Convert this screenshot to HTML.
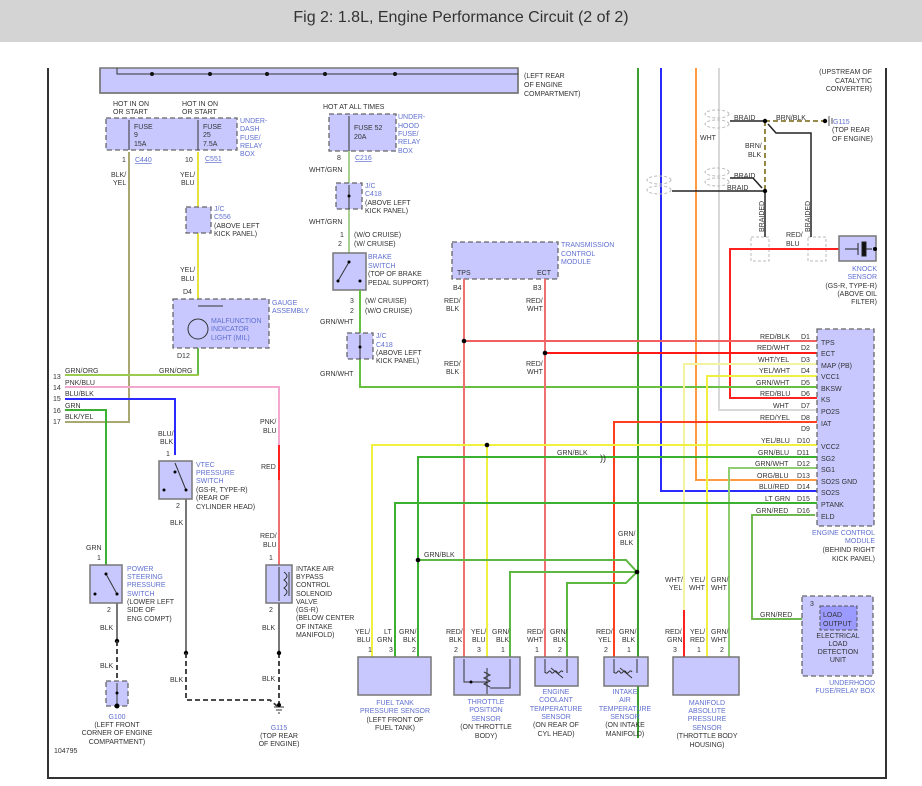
<!DOCTYPE html>
<html><head><meta charset="utf-8"><style>
html,body{margin:0;padding:0;background:#fff;}
svg{display:block;font-family:"Liberation Sans",sans-serif;}
.t{font-size:7px;fill:#333;}
.b{font-size:7px;fill:#6070d0;}
.box{fill:#c8c8ff;stroke:#777;stroke-width:1.5;}
.dbox{fill:#c8c8ff;stroke:#666;stroke-width:1.3;stroke-dasharray:5,3;}
.w{fill:none;stroke-width:2;}
</style></head><body>
<svg width="922" height="786" viewBox="0 0 922 786" xmlns="http://www.w3.org/2000/svg">
<rect x="0" y="0" width="922" height="42" fill="#d4d4d4"/>
<text x="461" y="22" text-anchor="middle" style="font-size:16px;fill:#333">Fig 2: 1.8L, Engine Performance Circuit (2 of 2)</text>
<!-- frame -->
<path d="M48 68V778H886V68" fill="none" stroke="#333" stroke-width="2"/>
<!-- top box -->
<rect x="100" y="68" width="418" height="25" class="box" stroke="none"/>
<path d="M100 68V93H518V68" fill="none" stroke="#777" stroke-width="1.5"/>
<path d="M117 68V74H518" fill="none" stroke="#333" stroke-width="1"/>
<g fill="#111"><circle cx="152" cy="74" r="2"/><circle cx="210" cy="74" r="2"/><circle cx="267" cy="74" r="2"/><circle cx="325" cy="74" r="2"/><circle cx="395" cy="74" r="2"/></g>
<text class="t" x="524" y="78">(LEFT REAR</text><text class="t" x="524" y="87">OF ENGINE</text><text class="t" x="524" y="96">COMPARTMENT)</text>

<!-- right-side vertical wires from top -->
<path class="w" d="M638 68V738" stroke="#3aa030"/>
<path class="w" d="M661 68V491H818" stroke="#2a2aff"/>
<path class="w" d="M696 68V480H818" stroke="#ff9a40"/>
<path class="w" d="M719 68V410H818" stroke="#d8d8d8"/>

<!-- upstream text -->
<text class="t" x="872" y="74" text-anchor="end">(UPSTREAM OF</text>
<text class="t" x="872" y="83" text-anchor="end">CATALYTIC</text>
<text class="t" x="872" y="91" text-anchor="end">CONVERTER)</text>

<!-- braid area -->
<g fill="none" stroke="#bbb" stroke-dasharray="3,2">
<ellipse cx="717" cy="114" rx="12" ry="4"/><ellipse cx="717" cy="124" rx="12" ry="4"/>
<ellipse cx="717" cy="172" rx="12" ry="4"/><ellipse cx="717" cy="182" rx="12" ry="4"/>
<ellipse cx="659" cy="180" rx="12" ry="4"/><ellipse cx="659" cy="190" rx="12" ry="4"/>
<rect x="751" y="237" width="18" height="24"/><rect x="808" y="237" width="18" height="24"/>
</g>
<path d="M730 121H765M672 191H765M730 178H753L762 188M765 191V237M768 124L776 133H811V237" fill="none" stroke="#222" stroke-width="1.5"/>
<path d="M765 121H823M765 121V191" fill="none" stroke="#8a7a30" stroke-width="1.8" stroke-dasharray="5,3"/>
<circle cx="765" cy="121" r="2.2"/><circle cx="765" cy="191" r="2.2"/><circle cx="825" cy="121" r="2.2"/>
<path d="M829 116V126M832 118V124" stroke="#555"/>
<text class="t" x="734" y="120">BRAID</text><text class="t" x="776" y="120">BRN/BLK</text>
<text class="b" x="833" y="124">G115</text><text class="t" x="832" y="132">(TOP REAR</text><text class="t" x="832" y="141">OF ENGINE)</text>
<text class="t" x="700" y="140">WHT</text>
<text class="t" x="745" y="148">BRN/</text><text class="t" x="748" y="157">BLK</text>
<text class="t" x="734" y="178">BRAID</text><text class="t" x="727" y="190">BRAID</text>
<text class="t" transform="translate(764,232) rotate(-90)">BRAIDED</text>
<text class="t" transform="translate(810,232) rotate(-90)">BRAIDED</text>
<text class="t" x="786" y="237">RED/</text><text class="t" x="786" y="246">BLU</text>
<path class="w" d="M839 249H730V398H818" stroke="#ff2020"/>
<rect x="839" y="236" width="37" height="25" class="box"/>
<path d="M845 249H858M858 243V255M862 242h4v14h-4zM866 249H872" stroke="#222" fill="#111"/>
<circle cx="875" cy="249" r="2"/>
<text class="b" x="877" y="271" text-anchor="end">KNOCK</text><text class="b" x="877" y="279" text-anchor="end">SENSOR</text>
<text class="t" x="877" y="288" text-anchor="end">(GS-R, TYPE-R)</text><text class="t" x="877" y="296" text-anchor="end">(ABOVE OIL</text><text class="t" x="877" y="304" text-anchor="end">FILTER)</text>

<!-- under-dash fuse box -->
<text class="t" x="113" y="106">HOT IN ON</text><text class="t" x="113" y="114">OR START</text>
<text class="t" x="182" y="106">HOT IN ON</text><text class="t" x="182" y="114">OR START</text>
<rect x="106" y="118" width="131" height="32" class="dbox"/>
<path d="M129 120V150M198 120V150" stroke="#333"/>
<text class="t" x="134" y="129">FUSE</text><text class="t" x="134" y="137">9</text><text class="t" x="134" y="146">15A</text>
<text class="t" x="203" y="129">FUSE</text><text class="t" x="203" y="137">25</text><text class="t" x="203" y="146">7.5A</text>
<text class="b" x="240" y="123">UNDER-</text><text class="b" x="240" y="131">DASH</text><text class="b" x="240" y="140">FUSE/</text><text class="b" x="240" y="148">RELAY</text><text class="b" x="240" y="156">BOX</text>
<text class="t" x="122" y="162">1</text><text class="b" x="135" y="162" text-decoration="underline">C440</text>
<text class="t" x="185" y="162">10</text><text class="b" x="205" y="161" text-decoration="underline">C551</text>
<path class="w" d="M129 152V422H65" stroke="#a8a870"/>
<text class="t" x="111" y="177">BLK/</text><text class="t" x="113" y="185">YEL</text>
<path class="w" d="M198 152V375H65" stroke="#e6e040"/>
<path d="M198 300V375" stroke="#66bb44" stroke-width="2"/>
<path d="M65 375H198" stroke="#9acb50" stroke-width="2"/>
<text class="t" x="180" y="177">YEL/</text><text class="t" x="181" y="185">BLU</text>
<rect x="186" y="207" width="25" height="26" class="dbox"/>
<text class="b" x="214" y="211">J/C</text><text class="b" x="214" y="219">C556</text><text class="t" x="214" y="228">(ABOVE LEFT</text><text class="t" x="214" y="236">KICK PANEL)</text>
<text class="t" x="180" y="272">YEL/</text><text class="t" x="181" y="281">BLU</text>
<text class="t" x="183" y="294">D4</text>
<rect x="173" y="299" width="96" height="49" class="dbox"/>
<circle cx="198" cy="329" r="10" fill="none" stroke="#333"/>
<path d="M198 306H223" stroke="#333"/>
<text class="b" x="211" y="323">MALFUNCTION</text><text class="b" x="211" y="331">INDICATOR</text><text class="b" x="211" y="340">LIGHT (MIL)</text>
<text class="b" x="272" y="305">GAUGE</text><text class="b" x="272" y="313">ASSEMBLY</text>
<text class="t" x="177" y="358">D12</text>
<text class="t" x="159" y="373">GRN/ORG</text>

<!-- line numbers -->
<text class="t" x="53" y="379">13</text><text class="t" x="53" y="390">14</text><text class="t" x="53" y="401">15</text><text class="t" x="53" y="413">16</text><text class="t" x="53" y="424">17</text>
<text class="t" x="65" y="373">GRN/ORG</text><text class="t" x="65" y="385">PNK/BLU</text><text class="t" x="65" y="396">BLU/BLK</text><text class="t" x="65" y="408">GRN</text><text class="t" x="65" y="419">BLK/YEL</text>
<path class="w" d="M65 387H279V445" stroke="#f4a8d0"/>
<path class="w" d="M65 399H175V455" stroke="#2a2aff"/>
<path class="w" d="M65 410H106V565" stroke="#3cb030"/>
<path class="w" d="M279 445V480" stroke="#ff2020"/>
<path class="w" d="M279 480V565" stroke="#f07070"/>
<text class="t" x="260" y="424">PNK/</text><text class="t" x="263" y="433">BLU</text>
<text class="t" x="261" y="469">RED</text>
<text class="t" x="260" y="538">RED/</text><text class="t" x="263" y="547">BLU</text>
<text class="t" x="158" y="436">BLU/</text><text class="t" x="160" y="444">BLK</text>

<!-- VTEC -->
<text class="t" x="166" y="456">1</text>
<rect x="159" y="461" width="33" height="38" class="box"/>
<path d="M175 463L186 490" stroke="#333"/><circle cx="175" cy="472" r="1.5"/><circle cx="164" cy="490" r="1.5"/><circle cx="186" cy="490" r="1.5"/>
<text class="b" x="196" y="467">VTEC</text><text class="b" x="196" y="475">PRESSURE</text><text class="b" x="196" y="483">SWITCH</text>
<text class="t" x="196" y="492">(GS-R, TYPE-R)</text><text class="t" x="196" y="500">(REAR OF</text><text class="t" x="196" y="509">CYLINDER HEAD)</text>
<text class="t" x="176" y="508">2</text>
<path d="M186 499V653" stroke="#777" stroke-width="2"/>
<text class="t" x="170" y="525">BLK</text>
<circle cx="186" cy="653" r="2.2"/>
<path d="M186 653V700H270L277 706M279 653V704" fill="none" stroke="#333" stroke-width="1.8" stroke-dasharray="5,3"/>
<text class="t" x="170" y="682">BLK</text>

<!-- power steering -->
<text class="t" x="86" y="550">GRN</text><text class="t" x="97" y="560">1</text>
<rect x="90" y="565" width="32" height="38" class="box"/>
<path d="M106 574L117 594" stroke="#333"/><circle cx="106" cy="574" r="1.5"/><circle cx="95" cy="594" r="1.5"/><circle cx="117" cy="594" r="1.5"/>
<text class="b" x="127" y="571">POWER</text><text class="b" x="127" y="579">STEERING</text><text class="b" x="127" y="587">PRESSURE</text><text class="b" x="127" y="596">SWITCH</text>
<text class="t" x="127" y="604">(LOWER LEFT</text><text class="t" x="127" y="612">SIDE OF</text><text class="t" x="127" y="621">ENG COMPT)</text>
<text class="t" x="107" y="612">2</text>
<path d="M117 603V641" stroke="#777" stroke-width="2"/>
<text class="t" x="100" y="630">BLK</text>
<circle cx="117" cy="641" r="2.2"/>
<path d="M117 641V680" stroke="#333" stroke-width="1.8" stroke-dasharray="5,3"/>
<text class="t" x="100" y="668">BLK</text>
<rect x="106" y="681" width="22" height="25" class="dbox"/>
<path d="M117 683V706" stroke="#333"/><circle cx="117" cy="693" r="1.5"/><circle cx="117" cy="706" r="2.5"/>
<text class="b" x="117" y="719" text-anchor="middle">G100</text>
<text class="t" x="117" y="727" text-anchor="middle">(LEFT FRONT</text><text class="t" x="117" y="735" text-anchor="middle">CORNER OF ENGINE</text><text class="t" x="117" y="744" text-anchor="middle">COMPARTMENT)</text>
<text class="t" x="54" y="753">104795</text>

<!-- IAB -->
<text class="t" x="269" y="560">1</text>
<rect x="266" y="565" width="26" height="38" class="box"/>
<path d="M279 567V601M284 572c4 3 4 5 0 8c4 3 4 5 0 8c4 3 4 5 0 8M289 572V596" fill="none" stroke="#333"/>
<text class="t" x="296" y="571">INTAKE AIR</text><text class="t" x="296" y="579">BYPASS</text><text class="t" x="296" y="587">CONTROL</text><text class="t" x="296" y="596">SOLENOID</text><text class="t" x="296" y="604">VALVE</text>
<text class="t" x="296" y="612">(GS-R)</text><text class="t" x="296" y="620">(BELOW CENTER</text><text class="t" x="296" y="629">OF INTAKE</text><text class="t" x="296" y="637">MANIFOLD)</text>
<text class="t" x="269" y="612">2</text>
<path d="M279 603V653" stroke="#777" stroke-width="2"/>
<text class="t" x="262" y="630">BLK</text>
<circle cx="279" cy="653" r="2.2"/>
<text class="t" x="262" y="681">BLK</text>
<path d="M274 707H284M276 710H282M278 713H280" stroke="#333"/><circle cx="279" cy="705" r="2"/>
<text class="b" x="279" y="730" text-anchor="middle">G115</text>
<text class="t" x="279" y="738" text-anchor="middle">(TOP REAR</text><text class="t" x="279" y="746" text-anchor="middle">OF ENGINE)</text>

<!-- fuse 52 / brake -->
<text class="t" x="323" y="109">HOT AT ALL TIMES</text>
<rect x="329" y="114" width="67" height="37" class="dbox"/>
<path d="M349 116V151" stroke="#333"/>
<text class="t" x="354" y="130">FUSE 52</text><text class="t" x="354" y="139">20A</text>
<text class="b" x="398" y="119">UNDER-</text><text class="b" x="398" y="128">HOOD</text><text class="b" x="398" y="136">FUSE/</text><text class="b" x="398" y="144">RELAY</text><text class="b" x="398" y="153">BOX</text>
<text class="t" x="337" y="160">8</text><text class="b" x="355" y="160" text-decoration="underline">C216</text>
<path class="w" d="M349 151V253" stroke="#a8d090"/>
<text class="t" x="309" y="172">WHT/GRN</text>
<rect x="336" y="183" width="26" height="26" class="dbox"/>
<path d="M349 185V209" stroke="#333"/><circle cx="349" cy="196" r="1.5"/>
<text class="b" x="365" y="188">J/C</text><text class="b" x="365" y="196">C418</text><text class="t" x="365" y="205">(ABOVE LEFT</text><text class="t" x="365" y="213">KICK PANEL)</text>
<text class="t" x="309" y="224">WHT/GRN</text>
<text class="t" x="340" y="237">1</text><text class="t" x="354" y="237">(W/O CRUISE)</text>
<text class="t" x="338" y="246">2</text><text class="t" x="354" y="246">(W/ CRUISE)</text>
<rect x="333" y="253" width="33" height="37" class="box"/>
<path d="M338 281L349 262" stroke="#333"/><circle cx="349" cy="262" r="1.5"/><circle cx="338" cy="281" r="1.5"/><circle cx="360" cy="281" r="1.5"/>
<text class="b" x="368" y="259">BRAKE</text><text class="b" x="368" y="268">SWITCH</text><text class="t" x="368" y="276">(TOP OF BRAKE</text><text class="t" x="368" y="285">PEDAL SUPPORT)</text>
<text class="t" x="350" y="303">3</text><text class="t" x="365" y="303">(W/ CRUISE)</text>
<text class="t" x="350" y="313">2</text><text class="t" x="365" y="313">(W/O CRUISE)</text>
<path class="w" d="M360 290V387H818" stroke="#66c040"/>
<text class="t" x="320" y="324">GRN/WHT</text>
<rect x="347" y="333" width="26" height="26" class="dbox"/>
<path d="M360 335V359" stroke="#333"/><circle cx="360" cy="347" r="1.5"/>
<text class="b" x="376" y="338">J/C</text><text class="b" x="376" y="347">C418</text><text class="t" x="376" y="355">(ABOVE LEFT</text><text class="t" x="376" y="363">KICK PANEL)</text>
<text class="t" x="320" y="376">GRN/WHT</text>

<!-- TCM -->
<rect x="452" y="242" width="106" height="37" class="dbox"/>
<text class="t" x="457" y="275">TPS</text><text class="t" x="537" y="275">ECT</text>
<text class="b" x="561" y="247">TRANSMISSION</text><text class="b" x="561" y="256">CONTROL</text><text class="b" x="561" y="264">MODULE</text>
<text class="t" x="453" y="290">B4</text><text class="t" x="533" y="290">B3</text>
<text class="t" x="444" y="303">RED/</text><text class="t" x="446" y="311">BLK</text>
<text class="t" x="526" y="303">RED/</text><text class="t" x="527" y="311">WHT</text>
<text class="t" x="444" y="366">RED/</text><text class="t" x="446" y="374">BLK</text>
<text class="t" x="526" y="366">RED/</text><text class="t" x="527" y="374">WHT</text>
<path class="w" d="M464 279V657" stroke="#f07070"/>
<path class="w" d="M545 279V657" stroke="#f07070"/>
<path class="w" d="M464 341H818" stroke="#f06060"/>
<path class="w" d="M545 353H818" stroke="#ff1818"/>
<circle cx="464" cy="341" r="2.3"/><circle cx="545" cy="353" r="2.3"/>

<!-- ECM wires -->
<path class="w" d="M684 610V364H818" stroke="#f4f4a0"/>
<path class="w" d="M707 657V376H818" stroke="#f0f040"/>
<path class="w" d="M614 657V422H818" stroke="#ff4020"/>
<path class="w" d="M372 657V445H818" stroke="#f0f040"/>
<path class="w" d="M487 445V657" stroke="#f0f040"/>
<circle cx="487" cy="445" r="2.3"/>
<path class="w" d="M418 657V457H818" stroke="#3cb030"/>
<text class="t" x="600" y="461" style="font-size:9px">))</text>
<path class="w" d="M418 560H626L637 572L626 583H567V657M637 572H510V657" stroke="#5cb840"/>
<circle cx="418" cy="560" r="2.3"/><circle cx="637" cy="572" r="2.3"/>
<path class="w" d="M729 657V468H818" stroke="#90cc70"/>
<path class="w" d="M395 657V503H818" stroke="#3cb030"/>
<path class="w" d="M815 515H752V619H815" stroke="#70b850"/>
<path class="w" d="M684 610V657" stroke="#ff2020"/>
<text class="t" x="557" y="455">GRN/BLK</text>
<text class="t" x="424" y="557">GRN/BLK</text>
<text class="t" x="618" y="536">GRN/</text><text class="t" x="620" y="545">BLK</text>
<text class="t" x="760" y="617">GRN/RED</text>

<!-- ECM box -->
<rect x="817" y="329" width="57" height="197" class="dbox"/>
<g class="t">
<text class="t" x="760" y="339">RED/BLK</text><text class="t" x="801" y="339">D1</text><text class="t" x="821" y="345">TPS</text>
<text class="t" x="757" y="350">RED/WHT</text><text class="t" x="801" y="350">D2</text><text class="t" x="821" y="356">ECT</text>
<text class="t" x="758" y="362">WHT/YEL</text><text class="t" x="801" y="362">D3</text><text class="t" x="821" y="368">MAP (PB)</text>
<text class="t" x="759" y="373">YEL/WHT</text><text class="t" x="801" y="373">D4</text><text class="t" x="821" y="379">VCC1</text>
<text class="t" x="756" y="385">GRN/WHT</text><text class="t" x="801" y="385">D5</text><text class="t" x="821" y="391">BKSW</text>
<text class="t" x="760" y="396">RED/BLU</text><text class="t" x="801" y="396">D6</text><text class="t" x="821" y="402">KS</text>
<text class="t" x="773" y="408">WHT</text><text class="t" x="801" y="408">D7</text><text class="t" x="821" y="414">PO2S</text>
<text class="t" x="760" y="420">RED/YEL</text><text class="t" x="801" y="420">D8</text><text class="t" x="821" y="426">IAT</text>
<text class="t" x="801" y="431">D9</text>
<text class="t" x="761" y="443">YEL/BLU</text><text class="t" x="797" y="443">D10</text><text class="t" x="821" y="449">VCC2</text>
<text class="t" x="758" y="455">GRN/BLU</text><text class="t" x="797" y="455">D11</text><text class="t" x="821" y="461">SG2</text>
<text class="t" x="755" y="466">GRN/WHT</text><text class="t" x="797" y="466">D12</text><text class="t" x="821" y="472">SG1</text>
<text class="t" x="757" y="478">ORG/BLU</text><text class="t" x="797" y="478">D13</text><text class="t" x="821" y="484">SO2S GND</text>
<text class="t" x="759" y="489">BLU/RED</text><text class="t" x="797" y="489">D14</text><text class="t" x="821" y="495">SO2S</text>
<text class="t" x="765" y="501">LT GRN</text><text class="t" x="797" y="501">D15</text><text class="t" x="821" y="507">PTANK</text>
<text class="t" x="756" y="513">GRN/RED</text><text class="t" x="797" y="513">D16</text><text class="t" x="821" y="519">ELD</text>
</g>
<text class="b" x="875" y="535" text-anchor="end">ENGINE CONTROL</text><text class="b" x="875" y="543" text-anchor="end">MODULE</text>
<text class="t" x="875" y="552" text-anchor="end">(BEHIND RIGHT</text><text class="t" x="875" y="561" text-anchor="end">KICK PANEL)</text>

<!-- ELD -->
<rect x="802" y="596" width="71" height="80" class="dbox"/>
<rect x="820" y="606" width="37" height="24" fill="#9a9aff" stroke="#555" stroke-dasharray="4,2"/>
<text class="t" x="810" y="606">3</text>
<text class="t" x="823" y="617">LOAD</text><text class="t" x="823" y="626">OUTPUT</text>
<text class="t" x="838" y="638" text-anchor="middle">ELECTRICAL</text><text class="t" x="838" y="646" text-anchor="middle">LOAD</text><text class="t" x="838" y="654" text-anchor="middle">DETECTION</text><text class="t" x="838" y="662" text-anchor="middle">UNIT</text>
<text class="b" x="875" y="685" text-anchor="end">UNDERHOOD</text><text class="t" x="875" y="693" text-anchor="end" style="fill:#6070d0">FUSE/RELAY BOX</text>

<!-- sensor wire labels -->
<g>
<text class="t" x="355" y="634">YEL/</text><text class="t" x="357" y="642">BLU</text><text class="t" x="384" y="634">LT</text><text class="t" x="377" y="642">GRN</text><text class="t" x="399" y="634">GRN/</text><text class="t" x="403" y="642">BLK</text>
<text class="t" x="446" y="634">RED/</text><text class="t" x="449" y="642">BLK</text><text class="t" x="471" y="634">YEL/</text><text class="t" x="472" y="642">BLU</text><text class="t" x="492" y="634">GRN/</text><text class="t" x="496" y="642">BLK</text>
<text class="t" x="527" y="634">RED/</text><text class="t" x="527" y="642">WHT</text><text class="t" x="550" y="634">GRN/</text><text class="t" x="553" y="642">BLK</text>
<text class="t" x="596" y="634">RED/</text><text class="t" x="598" y="642">YEL</text><text class="t" x="619" y="634">GRN/</text><text class="t" x="622" y="642">BLK</text>
<text class="t" x="665" y="582">WHT/</text><text class="t" x="669" y="590">YEL</text><text class="t" x="690" y="582">YEL/</text><text class="t" x="689" y="590">WHT</text><text class="t" x="711" y="582">GRN/</text><text class="t" x="711" y="590">WHT</text>
<text class="t" x="665" y="634">RED/</text><text class="t" x="667" y="642">GRN</text><text class="t" x="690" y="634">YEL/</text><text class="t" x="690" y="642">RED</text><text class="t" x="711" y="634">GRN/</text><text class="t" x="711" y="642">WHT</text>
<text class="t" x="368" y="652">1</text><text class="t" x="389" y="652">3</text><text class="t" x="412" y="652">2</text>
<text class="t" x="454" y="652">2</text><text class="t" x="477" y="652">3</text><text class="t" x="501" y="652">1</text>
<text class="t" x="535" y="652">1</text><text class="t" x="558" y="652">2</text>
<text class="t" x="604" y="652">2</text><text class="t" x="627" y="652">1</text>
<text class="t" x="673" y="652">3</text><text class="t" x="697" y="652">1</text><text class="t" x="720" y="652">2</text>
</g>

<!-- sensors -->
<rect x="358" y="657" width="73" height="38" class="box"/>
<rect x="454" y="657" width="66" height="38" class="box"/>
<path d="M464 659V682H487M487 668V694M484 672l6 3-6 3 6 3-6 3 6 3M510 659V688H490" fill="none" stroke="#333"/><circle cx="471" cy="682" r="1.5"/>
<rect x="535" y="657" width="43" height="29" class="box"/>
<path d="M545 659V673M567 659V673M545 672c3 4 4-4 6 0s4-4 6 0 4-4 6 0M551 668l12 10" fill="none" stroke="#333"/>
<rect x="604" y="657" width="44" height="29" class="box"/>
<path d="M614 659V673M637 659V673M614 672c3 4 4-4 6 0s4-4 6 0 4-4 6 0M620 668l12 10" fill="none" stroke="#333"/>
<rect x="673" y="657" width="66" height="38" class="box"/>

<g>
<text class="b" x="395" y="705" text-anchor="middle">FUEL TANK</text><text class="b" x="395" y="713" text-anchor="middle">PRESSURE SENSOR</text>
<text class="t" x="395" y="722" text-anchor="middle">(LEFT FRONT OF</text><text class="t" x="395" y="730" text-anchor="middle">FUEL TANK)</text>
<text class="b" x="486" y="704" text-anchor="middle">THROTTLE</text><text class="b" x="486" y="712" text-anchor="middle">POSITION</text><text class="b" x="486" y="721" text-anchor="middle">SENSOR</text>
<text class="t" x="486" y="729" text-anchor="middle">(ON THROTTLE</text><text class="t" x="486" y="738" text-anchor="middle">BODY)</text>
<text class="b" x="556" y="694" text-anchor="middle">ENGINE</text><text class="b" x="556" y="702" text-anchor="middle">COOLANT</text><text class="b" x="556" y="711" text-anchor="middle">TEMPERATURE</text><text class="b" x="556" y="719" text-anchor="middle">SENSOR</text>
<text class="t" x="556" y="727" text-anchor="middle">(ON REAR OF</text><text class="t" x="556" y="736" text-anchor="middle">CYL HEAD)</text>
<text class="b" x="625" y="694" text-anchor="middle">INTAKE</text><text class="b" x="625" y="702" text-anchor="middle">AIR</text><text class="b" x="625" y="711" text-anchor="middle">TEMPERATURE</text><text class="b" x="625" y="719" text-anchor="middle">SENSOR</text>
<text class="t" x="625" y="727" text-anchor="middle">(ON INTAKE</text><text class="t" x="625" y="736" text-anchor="middle">MANIFOLD)</text>
<text class="b" x="707" y="705" text-anchor="middle">MANIFOLD</text><text class="b" x="707" y="713" text-anchor="middle">ABSOLUTE</text><text class="b" x="707" y="721" text-anchor="middle">PRESSURE</text><text class="b" x="707" y="730" text-anchor="middle">SENSOR</text>
<text class="t" x="707" y="738" text-anchor="middle">(THROTTLE BODY</text><text class="t" x="707" y="747" text-anchor="middle">HOUSING)</text>
</g>
</svg>
</body></html>
